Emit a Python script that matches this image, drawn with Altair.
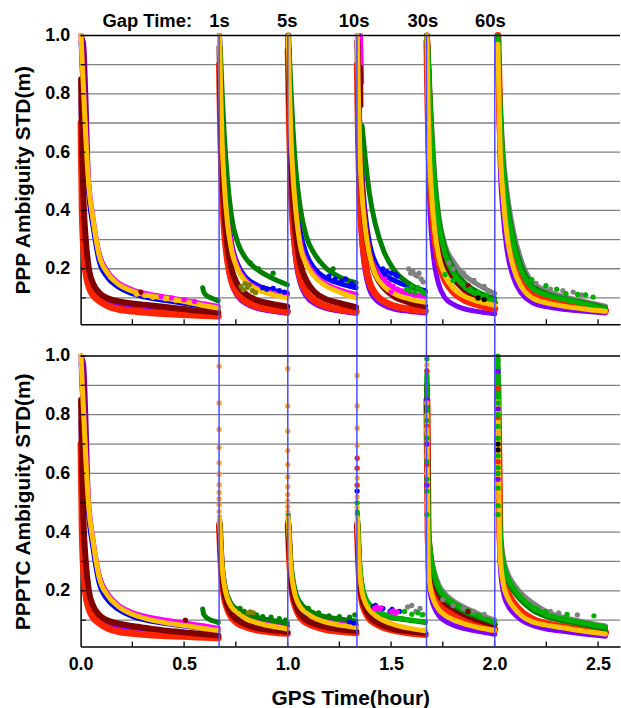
import altair as alt
import pandas as pd

# ---------------- layout constants ----------------
W = 542
H_TOP = 290
H_BOT = 292
GAP = 32
X_MAX = 2.606
Y_MIN = 0.01
FONT = "Liberation Sans"

# ---------------- data ----------------
RESETS = [0.0, 0.669, 1.001, 1.335, 1.671, 2.001]       # blue lines = RESETS[1:]
GAP_LABELS = ["Gap Time:", "1s", "5s", "10s", "30s", "60s"]
GAP_LABEL_X = [0.322, 0.671, 0.998, 1.321, 1.654, 1.98]
GRID_Y = [0.1, 0.2, 0.3, 0.4, 0.5, 0.6, 0.7, 0.8, 0.9]
YTICK_Y = [0.1, 0.2, 0.3, 0.4, 0.5, 0.6, 0.7, 0.8, 0.9, 1.0]
XTICK_X = [0.25, 0.5, 0.75, 1.0, 1.25, 1.5, 1.75, 2.0, 2.25, 2.5]
YLABELS = [0.2, 0.4, 0.6, 0.8, 1.0]
XLABELS = [0.0, 0.5, 1.0, 1.5, 2.0, 2.5]

# time offsets (hours after each reset) at which the curves were read
G_FIRST = [0.002, 0.008, 0.015, 0.025, 0.04, 0.06, 0.09, 0.13, 0.18, 0.25, 0.33, 0.42, 0.52, 0.6, 0.665]
G_MID = [0.002, 0.008, 0.015, 0.025, 0.04, 0.06, 0.09, 0.13, 0.18, 0.25, 0.33]
G_LAST = [0.002, 0.008, 0.015, 0.025, 0.04, 0.06, 0.09, 0.13, 0.18, 0.25, 0.33, 0.42, 0.535]

COLORS = {
    "darkpurple": "#800080", "gray": "#808080", "blue": "#0000FF", "magenta": "#FF00FF",
    "purple": "#8000FF", "lime": "#00FF00", "red": "#FF2400", "maroon": "#800000",
    "darkgreen": "#008000", "green": "#00B000", "yellow": "#FFC000", "olive": "#808000",
    "black": "#000000", "orange": "#FFA030",
}
ORDER = ["darkpurple", "gray", "blue", "magenta", "purple", "lime", "red", "maroon",
         "darkgreen", "green", "yellow", "olive", "black", "orange"]
WIDTHS = {"red": 7, "maroon": 6}

# ---- PPP (top panel) ----
PPP_S0 = {
    "darkpurple": [1.0, 0.99, 0.97, 0.8, 0.47, 0.36, 0.25, 0.19, 0.15, 0.125, 0.108, 0.097, 0.085, 0.075, 0.068],
    "blue":       [0.98, 0.88, 0.77, 0.62, 0.45, 0.345, 0.225, 0.17, 0.138, 0.115, 0.1, 0.09, 0.079, 0.07, 0.063],
    "magenta":    [1.0, 0.9, 0.8, 0.66, 0.49, 0.375, 0.25, 0.19, 0.153, 0.128, 0.113, 0.102, 0.09, 0.079, 0.071],
    "purple":     [0.78, 0.5, 0.34, 0.24, 0.165, 0.125, 0.1, 0.083, 0.072, 0.064, 0.058, 0.053, 0.048, 0.045, 0.043],
    "red":        [0.7, 0.4, 0.27, 0.19, 0.14, 0.11, 0.09, 0.073, 0.062, 0.055, 0.05, 0.046, 0.042, 0.04, 0.038],
    "maroon":     [0.85, 0.6, 0.42, 0.3, 0.2, 0.15, 0.118, 0.099, 0.089, 0.081, 0.075, 0.068, 0.06, 0.054, 0.05],
    "yellow":     [1.0, 0.9, 0.8, 0.65, 0.48, 0.37, 0.245, 0.185, 0.148, 0.123, 0.108, 0.098, 0.085, 0.073, 0.065],
}
PPP_S1 = {
    "darkgreen": [1.0, 0.92, 0.8, 0.66, 0.51, 0.38, 0.29, 0.235, 0.2, 0.17, 0.145],
    "blue":      [1.0, 0.84, 0.68, 0.54, 0.4, 0.29, 0.215, 0.17, 0.145, 0.128, 0.115],
    "magenta":   [1.0, 0.82, 0.66, 0.52, 0.38, 0.28, 0.205, 0.16, 0.135, 0.12, 0.108],
    "lime":      [0.92, 0.7, 0.52, 0.38, 0.27, 0.185, 0.135, 0.105, 0.088, 0.075, 0.065],
    "purple":    [0.88, 0.64, 0.46, 0.33, 0.22, 0.15, 0.105, 0.08, 0.065, 0.055, 0.047],
    "red":       [0.9, 0.66, 0.48, 0.34, 0.235, 0.16, 0.115, 0.088, 0.072, 0.061, 0.053],
    "maroon":    [0.96, 0.74, 0.55, 0.4, 0.28, 0.2, 0.145, 0.113, 0.093, 0.08, 0.07],
    "yellow":    [1.0, 0.8, 0.63, 0.49, 0.36, 0.265, 0.197, 0.155, 0.13, 0.113, 0.1],
}
PPP_S2 = {
    "darkgreen": [1.0, 0.93, 0.82, 0.68, 0.53, 0.41, 0.31, 0.25, 0.205, 0.172, 0.152],
    "blue":      [1.0, 0.86, 0.72, 0.58, 0.44, 0.33, 0.25, 0.2, 0.17, 0.15, 0.135],
    "magenta":   [1.0, 0.83, 0.67, 0.53, 0.4, 0.29, 0.225, 0.18, 0.15, 0.128, 0.112],
    "purple":    [0.92, 0.66, 0.47, 0.33, 0.22, 0.15, 0.105, 0.08, 0.065, 0.055, 0.047],
    "red":       [0.95, 0.7, 0.5, 0.36, 0.25, 0.17, 0.12, 0.09, 0.073, 0.061, 0.053],
    "maroon":    [1.0, 0.77, 0.57, 0.43, 0.31, 0.22, 0.16, 0.12, 0.097, 0.082, 0.068],
    "yellow":    [1.0, 0.82, 0.66, 0.52, 0.39, 0.28, 0.215, 0.172, 0.143, 0.12, 0.1],
}
PPP_S3 = {
    "blue":      [1.0, 0.82, 0.66, 0.52, 0.39, 0.29, 0.22, 0.18, 0.16, 0.14, 0.125],
    "magenta":   [1.0, 0.8, 0.63, 0.49, 0.36, 0.26, 0.2, 0.16, 0.13, 0.115, 0.105],
    "purple":    [0.88, 0.58, 0.4, 0.28, 0.19, 0.13, 0.095, 0.075, 0.062, 0.054, 0.048],
    "red":       [0.9, 0.63, 0.45, 0.32, 0.22, 0.155, 0.113, 0.088, 0.072, 0.062, 0.055],
    "maroon":    [0.98, 0.78, 0.6, 0.46, 0.34, 0.25, 0.18, 0.135, 0.105, 0.085, 0.072],
    "darkgreen": [None, None, None, 0.69, 0.58, 0.46, 0.35, 0.26, 0.195, 0.15, 0.118],
    "yellow":    [1.0, 0.76, 0.58, 0.45, 0.34, 0.25, 0.18, 0.14, 0.115, 0.097, 0.085],
}
PPP_S4 = {
    "gray":      [1.0, 0.95, 0.84, 0.7, 0.52, 0.38, 0.28, 0.225, 0.18, 0.145, 0.115],
    "purple":    [0.9, 0.62, 0.44, 0.31, 0.21, 0.145, 0.1, 0.078, 0.063, 0.053, 0.046],
    "lime":      [1.0, 0.8, 0.62, 0.48, 0.35, 0.25, 0.18, 0.135, 0.105, 0.085, 0.07],
    "red":       [0.98, 0.74, 0.56, 0.43, 0.31, 0.22, 0.16, 0.12, 0.094, 0.076, 0.062],
    "maroon":    [1.0, 0.9, 0.76, 0.6, 0.44, 0.32, 0.23, 0.17, 0.13, 0.1, 0.083],
    "darkgreen": [1.0, 0.94, 0.82, 0.67, 0.5, 0.37, 0.27, 0.2, 0.155, 0.12, 0.098],
    "green":     [1.0, 0.93, 0.8, 0.65, 0.48, 0.35, 0.25, 0.185, 0.14, 0.11, 0.09],
    "yellow":    [1.0, 0.76, 0.58, 0.45, 0.33, 0.24, 0.175, 0.133, 0.107, 0.088, 0.075],
}
PPP_S5 = {
    "gray":      [None, None, 1.0, 0.8, 0.6, 0.46, 0.33, 0.225, 0.155, 0.125, 0.105, 0.09, 0.072],
    "purple":    [None, None, 0.95, 0.58, 0.39, 0.26, 0.17, 0.115, 0.085, 0.07, 0.061, 0.055, 0.048],
    "lime":      [None, None, 0.98, 0.66, 0.47, 0.33, 0.215, 0.145, 0.105, 0.086, 0.075, 0.065, 0.054],
    "red":       [None, None, 1.0, 0.7, 0.5, 0.36, 0.245, 0.165, 0.118, 0.094, 0.081, 0.07, 0.056],
    "darkgreen": [None, None, 1.0, 0.78, 0.57, 0.43, 0.305, 0.205, 0.145, 0.115, 0.098, 0.085, 0.066],
    "green":     [None, None, 1.0, 0.76, 0.55, 0.41, 0.285, 0.19, 0.135, 0.11, 0.096, 0.082, 0.062],
    "yellow":    [None, None, 0.97, 0.64, 0.45, 0.31, 0.205, 0.137, 0.1, 0.083, 0.072, 0.063, 0.054],
}
# short curves with their own absolute times
PPP_EXTRA = [
    ("darkgreen", [0.59, 0.595, 0.61, 0.63, 0.65, 0.665], [0.135, 0.12, 0.107, 0.1, 0.094, 0.09]),
    ("magenta", [1.352, 1.355, 1.358], [1.0, 0.92, 0.84]),
    ("maroon", [1.35, 1.351, 1.352], [0.89, 0.82, 0.76]),
]
PPP_DOT_X = [0.29, 0.27, 0.31, 0.35, 0.41, 0.46, 0.3, 0.39, 0.44, 0.5, 0.55,
             0.775, 0.785, 0.795, 0.805, 0.815, 0.83, 0.845,
             0.88, 0.9, 0.93, 0.96, 0.985, 1.2, 1.23, 1.26, 1.28, 1.31, 1.325,
             1.46, 1.48, 1.5, 1.52, 1.53, 0.82, 0.86, 0.93, 1.22,
             1.47, 1.49, 1.51, 1.53, 1.55, 1.5,
             1.585, 1.595, 1.605, 1.615, 1.625, 1.635, 1.645, 1.655,
             1.575, 1.59, 1.6, 1.615, 1.63, 1.645, 1.66,
             1.873, 1.78, 1.8, 1.85, 1.9, 1.95, 1.76, 1.8, 1.84, 1.88, 1.92, 1.96, 1.92, 1.95,
             2.18, 2.248, 2.3, 2.345, 2.401, 2.44, 2.476, 2.2, 2.27, 2.33, 2.38, 2.42]
PPP_DOT_Y = [0.12, 0.113, 0.108, 0.102, 0.097, 0.092, 0.115, 0.104, 0.1, 0.094, 0.088,
             0.14, 0.128, 0.15, 0.135, 0.145, 0.125, 0.118,
             0.135, 0.13, 0.133, 0.125, 0.12, 0.175, 0.165, 0.158, 0.165, 0.15, 0.14,
             0.2, 0.19, 0.185, 0.18, 0.175, 0.22, 0.2, 0.185, 0.2,
             0.165, 0.15, 0.14, 0.13, 0.125, 0.12,
             0.2, 0.185, 0.192, 0.18, 0.175, 0.185, 0.165, 0.155,
             0.13, 0.125, 0.14, 0.12, 0.135, 0.125, 0.115,
             0.142, 0.22, 0.2, 0.185, 0.16, 0.14, 0.18, 0.16, 0.15, 0.13, 0.12, 0.11, 0.1, 0.095,
             0.163, 0.142, 0.13, 0.115, 0.112, 0.11, 0.103, 0.15, 0.13, 0.125, 0.12, 0.11]
PPP_DOT_C = ["maroon", "yellow", "yellow", "yellow", "yellow", "yellow", "magenta", "magenta", "magenta", "magenta", "magenta",
             "olive", "olive", "olive", "olive", "olive", "olive", "olive",
             "blue", "blue", "blue", "blue", "blue", "blue", "blue", "blue", "blue", "blue", "blue",
             "blue", "blue", "blue", "blue", "blue", "darkgreen", "darkgreen", "darkgreen", "darkgreen",
             "magenta", "magenta", "magenta", "magenta", "magenta", "magenta",
             "gray", "gray", "gray", "gray", "gray", "gray", "gray", "gray",
             "green", "green", "green", "green", "green", "green", "green",
             "maroon", "gray", "gray", "gray", "gray", "gray", "green", "green", "green", "green", "green", "green", "black", "black",
             "green", "green", "green", "green", "green", "green", "green", "gray", "gray", "gray", "gray", "gray"]

# ---- PPPTC (bottom panel) ----
PPPTC_S0 = {
    "darkpurple": [1.0, 0.99, 0.97, 0.8, 0.47, 0.36, 0.25, 0.19, 0.15, 0.125, 0.108, 0.097, 0.085, 0.075, 0.068],
    "blue":       [0.98, 0.88, 0.77, 0.62, 0.45, 0.345, 0.225, 0.17, 0.138, 0.113, 0.098, 0.088, 0.078, 0.07, 0.063],
    "magenta":    [1.0, 0.9, 0.8, 0.66, 0.49, 0.375, 0.25, 0.19, 0.153, 0.126, 0.11, 0.099, 0.089, 0.08, 0.073],
    "purple":     [0.78, 0.5, 0.34, 0.24, 0.165, 0.125, 0.1, 0.083, 0.072, 0.064, 0.058, 0.053, 0.048, 0.045, 0.043],
    "red":        [0.7, 0.4, 0.27, 0.19, 0.14, 0.11, 0.09, 0.073, 0.062, 0.055, 0.05, 0.047, 0.044, 0.042, 0.04],
    "maroon":     [0.85, 0.6, 0.42, 0.3, 0.2, 0.15, 0.118, 0.099, 0.089, 0.08, 0.072, 0.064, 0.057, 0.052, 0.048],
    "yellow":     [1.0, 0.9, 0.8, 0.65, 0.48, 0.37, 0.245, 0.185, 0.148, 0.12, 0.103, 0.09, 0.08, 0.071, 0.065],
}
PPPTC_S1 = {
    "blue":      [0.44, 0.35, 0.27, 0.21, 0.17, 0.14, 0.12, 0.105, 0.095, 0.088, 0.08],
    "magenta":   [0.45, 0.37, 0.29, 0.23, 0.18, 0.15, 0.13, 0.11, 0.097, 0.085, 0.075],
    "red":       [0.42, 0.32, 0.24, 0.18, 0.14, 0.11, 0.09, 0.077, 0.067, 0.06, 0.055],
    "maroon":    [0.43, 0.33, 0.25, 0.19, 0.15, 0.12, 0.1, 0.085, 0.074, 0.066, 0.06],
    "darkgreen": [0.45, 0.37, 0.29, 0.23, 0.185, 0.155, 0.135, 0.12, 0.11, 0.1, 0.09],
    "yellow":    [0.45, 0.36, 0.28, 0.22, 0.175, 0.145, 0.125, 0.105, 0.092, 0.08, 0.07],
}
PPPTC_S2 = {
    "blue":      [0.44, 0.35, 0.27, 0.21, 0.17, 0.14, 0.12, 0.107, 0.097, 0.09, 0.085],
    "magenta":   [0.45, 0.37, 0.29, 0.23, 0.18, 0.15, 0.13, 0.112, 0.1, 0.09, 0.08],
    "red":       [0.42, 0.32, 0.24, 0.18, 0.14, 0.11, 0.092, 0.079, 0.069, 0.062, 0.057],
    "maroon":    [0.43, 0.33, 0.25, 0.19, 0.15, 0.12, 0.1, 0.087, 0.077, 0.069, 0.063],
    "darkgreen": [0.46, 0.38, 0.3, 0.24, 0.19, 0.16, 0.138, 0.123, 0.112, 0.104, 0.097],
    "yellow":    [0.45, 0.36, 0.28, 0.22, 0.175, 0.145, 0.125, 0.107, 0.094, 0.083, 0.075],
}
PPPTC_S3 = {
    "red":       [0.42, 0.3, 0.22, 0.165, 0.13, 0.105, 0.088, 0.075, 0.065, 0.057, 0.051],
    "maroon":    [0.43, 0.31, 0.23, 0.175, 0.14, 0.113, 0.095, 0.081, 0.07, 0.062, 0.056],
    "darkgreen": [0.46, 0.35, 0.27, 0.215, 0.175, 0.15, 0.13, 0.117, 0.107, 0.1, 0.092],
    "green":     [0.47, 0.36, 0.28, 0.22, 0.18, 0.155, 0.135, 0.12, 0.11, 0.102, 0.095],
    "yellow":    [0.45, 0.33, 0.25, 0.195, 0.16, 0.135, 0.115, 0.098, 0.085, 0.073, 0.064],
}
PPPTC_S4 = {
    "gray":      [0.9, 0.42, 0.37, 0.31, 0.26, 0.22, 0.19, 0.165, 0.145, 0.122, 0.1],
    "purple":    [0.7, 0.28, 0.21, 0.17, 0.14, 0.115, 0.097, 0.083, 0.072, 0.062, 0.052],
    "red":       [0.85, 0.38, 0.31, 0.25, 0.2, 0.16, 0.135, 0.115, 0.097, 0.08, 0.068],
    "maroon":    [0.9, 0.4, 0.34, 0.28, 0.23, 0.19, 0.16, 0.14, 0.12, 0.1, 0.085],
    "darkgreen": [0.93, 0.41, 0.35, 0.29, 0.24, 0.2, 0.17, 0.15, 0.13, 0.11, 0.09],
    "green":     [0.95, 0.42, 0.36, 0.3, 0.25, 0.21, 0.18, 0.158, 0.138, 0.115, 0.092],
    "yellow":    [0.8, 0.3, 0.23, 0.19, 0.16, 0.135, 0.117, 0.102, 0.088, 0.075, 0.065],
}
PPPTC_S5 = {
    "gray":      [None, None, 0.95, 0.43, 0.32, 0.265, 0.225, 0.19, 0.16, 0.13, 0.11, 0.096, 0.08],
    "purple":    [None, None, 0.8, 0.3, 0.2, 0.155, 0.125, 0.1, 0.083, 0.07, 0.062, 0.054, 0.045],
    "lime":      [None, None, 0.88, 0.36, 0.25, 0.19, 0.15, 0.12, 0.1, 0.085, 0.075, 0.066, 0.056],
    "red":       [None, None, 0.9, 0.38, 0.26, 0.2, 0.16, 0.128, 0.105, 0.088, 0.078, 0.068, 0.058],
    "darkgreen": [None, None, 0.97, 0.41, 0.29, 0.24, 0.2, 0.165, 0.135, 0.112, 0.098, 0.086, 0.07],
    "green":     [None, None, 1.0, 0.42, 0.3, 0.25, 0.21, 0.175, 0.145, 0.12, 0.105, 0.092, 0.076],
    "yellow":    [None, None, 0.85, 0.33, 0.23, 0.18, 0.145, 0.115, 0.095, 0.083, 0.074, 0.064, 0.053],
}
PPPTC_EXTRA = [
    ("darkgreen", [0.59, 0.595, 0.61, 0.63, 0.65, 0.665], [0.138, 0.12, 0.108, 0.1, 0.096, 0.092]),
]
PPPTC_DOT_X = [0.506,
               0.669, 0.669, 0.669, 0.669, 0.669, 0.669, 0.669, 0.669, 0.669, 0.669, 0.669,
               1.001, 1.001, 1.001, 1.001, 1.001, 1.001, 1.001, 1.001, 1.001, 1.001, 1.001,
               1.336, 1.336, 1.336, 1.336, 1.336, 1.336, 1.336, 1.336, 1.336, 1.336, 1.336, 1.336,
               1.673, 1.673, 1.673, 1.673, 1.673, 1.673, 1.673, 1.673, 1.673, 1.673, 1.673, 1.673,
               1.673, 1.673, 1.673, 1.673, 1.673, 1.673, 1.673, 1.673,
               2.017, 2.017, 2.017, 2.017, 2.017, 2.017, 2.017, 2.017, 2.017, 2.017, 2.017, 2.017,
               2.017, 2.017, 2.017, 2.017, 2.017, 2.017, 2.017, 2.017, 2.017, 2.017,
               0.81, 0.82, 0.835,
               0.77, 0.79, 0.82, 0.85, 0.88, 0.92, 0.96, 0.99,
               1.1, 1.15, 1.2, 1.25, 1.3, 1.325, 1.3, 1.32,
               1.415, 1.425, 1.46, 1.495, 1.505, 1.54,
               1.42, 1.43, 1.44, 1.45, 1.5, 1.51, 1.52, 1.53,
               1.58, 1.6, 1.62, 1.64, 1.655, 1.565, 1.6, 1.63, 1.65,
               1.75, 1.8, 1.85, 1.9, 1.95, 1.872,
               2.248, 2.48, 2.2, 2.35, 2.31, 2.27, 2.4]
PPPTC_DOT_Y = [0.10,
               0.965, 0.84, 0.75, 0.688, 0.636, 0.598, 0.561, 0.535, 0.513, 0.493, 0.47,
               0.957, 0.83, 0.744, 0.678, 0.63, 0.588, 0.555, 0.528, 0.506, 0.487, 0.47,
               0.934, 0.83, 0.754, 0.697, 0.652, 0.618, 0.584, 0.56, 0.54, 0.52, 0.5, 0.485,
               0.99, 0.97, 0.95, 0.87, 0.85, 0.84, 0.78, 0.76, 0.75, 0.72, 0.7, 0.66,
               0.64, 0.63, 0.6, 0.58, 0.56, 0.54, 0.5, 0.46,
               0.985, 0.948, 0.89, 0.86, 0.84, 0.82, 0.8, 0.79, 0.76, 0.74, 0.72, 0.7,
               0.68, 0.66, 0.64, 0.62, 0.6, 0.58, 0.55, 0.52, 0.49, 0.46,
               0.125, 0.128, 0.125,
               0.14, 0.13, 0.12, 0.118, 0.112, 0.11, 0.105, 0.1,
               0.14, 0.125, 0.115, 0.112, 0.11, 0.118, 0.095, 0.09,
               0.145, 0.15, 0.14, 0.13, 0.137, 0.13,
               0.14, 0.145, 0.138, 0.142, 0.128, 0.132, 0.125, 0.128,
               0.145, 0.15, 0.13, 0.14, 0.12, 0.13, 0.12, 0.125, 0.118,
               0.17, 0.15, 0.14, 0.13, 0.12, 0.13,
               0.129, 0.115, 0.14, 0.12, 0.125, 0.13, 0.118]
PPPTC_DOT_C = ["maroon",
               "orange", "orange", "orange", "orange", "orange", "orange", "orange", "orange", "orange", "orange", "orange",
               "orange", "orange", "orange", "orange", "orange", "orange", "orange", "orange", "orange", "orange", "orange",
               "orange", "orange", "orange", "orange", "red", "red", "orange", "red", "blue", "orange", "green", "yellow",
               "green", "orange", "red", "green", "purple", "orange", "green", "red", "orange", "green", "purple", "orange",
               "green", "red", "orange", "green", "purple", "green", "orange", "green",
               "green", "purple", "red", "green", "green", "purple", "green", "red", "green", "orange", "green", "black",
               "black", "green", "red", "green", "green", "purple", "green", "orange", "green", "green",
               "olive", "olive", "olive",
               "darkgreen", "darkgreen", "darkgreen", "darkgreen", "darkgreen", "darkgreen", "darkgreen", "darkgreen",
               "darkgreen", "darkgreen", "darkgreen", "darkgreen", "darkgreen", "darkgreen", "blue", "blue",
               "blue", "blue", "blue", "blue", "blue", "blue",
               "magenta", "magenta", "magenta", "magenta", "magenta", "magenta", "magenta", "magenta",
               "gray", "gray", "gray", "gray", "gray", "green", "green", "green", "green",
               "gray", "gray", "gray", "gray", "gray", "maroon",
               "green", "green", "green", "green", "gray", "gray", "gray"]

PPP_SEGMENTS = [(G_FIRST, PPP_S0), (G_MID, PPP_S1), (G_MID, PPP_S2), (G_MID, PPP_S3), (G_MID, PPP_S4), (G_LAST, PPP_S5)]
PPPTC_SEGMENTS = [(G_FIRST, PPPTC_S0), (G_MID, PPPTC_S1), (G_MID, PPPTC_S2), (G_MID, PPPTC_S3), (G_MID, PPPTC_S4), (G_LAST, PPPTC_S5)]


def line_table(segments, extras):
    rows = []
    for k, (grid, series) in enumerate(segments):
        t0 = RESETS[k]
        for name, vals in series.items():
            for dt, v in zip(grid, vals):
                if v is not None:
                    rows.append({"c": name, "g": f"{name}-{k}", "x": t0 + dt, "y": v})
    for j, (name, xs, ys) in enumerate(extras):
        for xv, yv in zip(xs, ys):
            rows.append({"c": name, "g": f"{name}-extra{j}", "x": xv, "y": yv})
    return pd.DataFrame(rows)


XS = alt.Scale(domain=[0, X_MAX], nice=False, zero=False)
YS = alt.Scale(domain=[Y_MIN, 1.0], nice=False, zero=False)


def panel(segments, extras, dx, dy, dc, height, ytitle, bottom):
    if bottom:
        xaxis = alt.Axis(values=XLABELS, format=".1f", ticks=False, tickSize=0, grid=False,
                         labelFont=FONT, labelFontWeight="bold", labelFontSize=18, labelColor="black",
                         labelPadding=9, title="GPS Time(hour)", titleFont=FONT, titleFontWeight="bold",
                         titleFontSize=21, titleColor="black", titlePadding=14, labelFlush=False)
    else:
        xaxis = alt.Axis(labels=False, ticks=False, tickSize=0, grid=False, title=None)
    yaxis = alt.Axis(values=YLABELS, format=".1f", ticks=False, tickSize=0, grid=False,
                     labelFont=FONT, labelFontWeight="bold", labelFontSize=18, labelColor="black",
                     labelPadding=11, title=ytitle, titleFont=FONT, titleFontWeight="bold",
                     titleFontSize=21, titleColor="black", titlePadding=11, labelFlush=False)
    X = alt.X("x:Q", scale=XS, axis=xaxis)
    Y = alt.Y("y:Q", scale=YS, axis=yaxis)

    layers = []
    layers.append(alt.Chart(pd.DataFrame({"y": GRID_Y})).mark_rule(color="#808080", strokeWidth=1.3)
                  .encode(y=Y, x=alt.value(0), x2=alt.value(W)))
    lines = line_table(segments, extras)
    for c in ORDER:
        sub = lines[lines["c"] == c]
        if len(sub):
            layers.append(alt.Chart(sub).mark_line(color=COLORS[c], strokeWidth=WIDTHS.get(c, 5),
                                                   interpolate="monotone", strokeCap="round")
                          .encode(x=X, y=Y, detail="g:N", order="x:Q"))
    dots = pd.DataFrame({"x": dx, "y": dy, "c": dc})
    for c in ORDER:
        sub = dots[dots["c"] == c]
        if len(sub):
            layers.append(alt.Chart(sub).mark_circle(color=COLORS[c], size=28, opacity=1)
                          .encode(x=X, y=Y))
    # inner ticks
    layers.append(alt.Chart(pd.DataFrame({"y": YTICK_Y})).mark_rule(color="black", strokeWidth=1.3)
                  .encode(y=Y, x=alt.value(0), x2=alt.value(5)))
    layers.append(alt.Chart(pd.DataFrame({"x": XTICK_X})).mark_rule(color="black", strokeWidth=1.3)
                  .encode(x=X, y=alt.value(height), y2=alt.value(height - 5)))
    # top frame line
    layers.append(alt.Chart(pd.DataFrame({"y": [1.0]})).mark_rule(color="black", strokeWidth=1.5)
                  .encode(y=Y, x=alt.value(0), x2=alt.value(W)))
    # blue gap lines
    layers.append(alt.Chart(pd.DataFrame({"x": RESETS[1:]})).mark_rule(color="#4A4AFF", strokeWidth=1.5)
                  .encode(x=X, y=alt.value(0), y2=alt.value(height if bottom else height + GAP)))
    if not bottom:
        layers.append(alt.Chart(pd.DataFrame({"x": GAP_LABEL_X, "t": GAP_LABELS}))
                      .mark_text(font=FONT, fontWeight="bold", fontSize=18.5, color="black",
                                 baseline="alphabetic", align="center")
                      .encode(x=X, y=alt.value(-9), text="t:N"))
    return alt.layer(*layers).properties(width=W, height=height)


top = panel(PPP_SEGMENTS, PPP_EXTRA, PPP_DOT_X, PPP_DOT_Y, PPP_DOT_C, H_TOP, "PPP Ambiguity STD(m)", False)
bot = panel(PPPTC_SEGMENTS, PPPTC_EXTRA, PPPTC_DOT_X, PPPTC_DOT_Y, PPPTC_DOT_C, H_BOT, "PPPTC Ambiguity STD(m)", True)

chart = alt.vconcat(top, bot, spacing=GAP, bounds="flush").properties(
    padding={"left": 12, "top": 10, "right": 0, "bottom": 4}
).configure_view(stroke=None).configure_axis(domainColor="black", domainWidth=1.5)

chart.save("out.html", embed_options={"renderer": "svg", "actions": False})
